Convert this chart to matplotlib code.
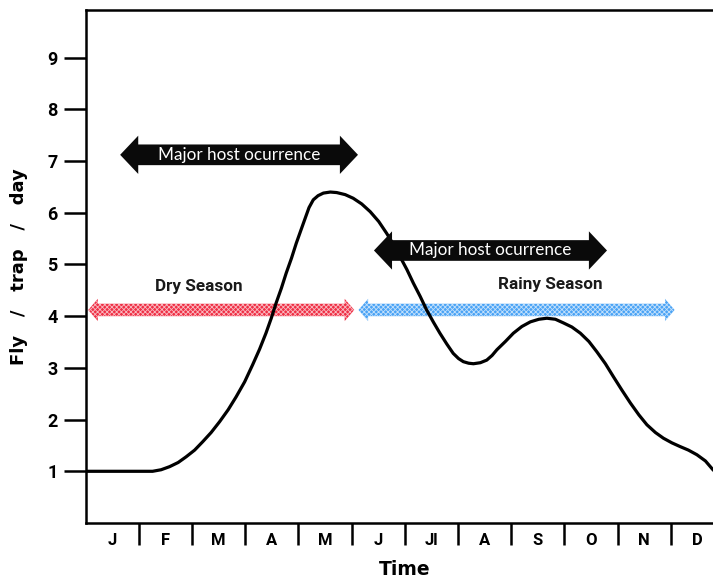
import numpy as np
import matplotlib.pyplot as plt
from matplotlib.patches import Polygon

# Miesiace (etykiety osi X)
months = ["J", "F", "M", "A", "M", "J", "Jl", "A", "S", "O", "N", "D"]

# Krzywa (x w miesiacach od poczatku stycznia)
curve_x = [0.0, 0.6, 1.26, 1.42, 1.58, 1.74, 1.89, 2.05, 2.20, 2.36, 2.52, 2.68, 2.83,
           2.99, 3.14, 3.27, 3.39, 3.49, 3.58, 3.68, 3.77, 3.87, 3.96, 4.05, 4.13,
           4.20, 4.28, 4.37, 4.47, 4.60, 4.72, 4.88, 5.03, 5.19, 5.35, 5.51, 5.66,
           5.79, 5.91, 6.04, 6.16, 6.29, 6.41, 6.54, 6.66, 6.79, 6.91, 7.01, 7.10,
           7.20, 7.29, 7.42, 7.54, 7.64, 7.73, 7.89, 8.04, 8.20, 8.36, 8.52, 8.67,
           8.83, 8.98, 9.14, 9.30, 9.46, 9.61, 9.77, 9.92, 10.08, 10.24, 10.40, 10.55,
           10.71, 10.86, 11.02, 11.17, 11.33, 11.49, 11.65, 11.80]
curve_y = [1.0, 1.0, 1.0, 1.03, 1.09, 1.17, 1.28, 1.41, 1.57, 1.75, 1.96, 2.19, 2.44,
           2.73, 3.06, 3.36, 3.67, 3.96, 4.25, 4.54, 4.83, 5.12, 5.41, 5.67, 5.90,
           6.10, 6.25, 6.33, 6.38, 6.40, 6.39, 6.35, 6.28, 6.17, 6.02, 5.83, 5.60,
           5.38, 5.15, 4.90, 4.64, 4.38, 4.12, 3.88, 3.67, 3.46, 3.28, 3.18, 3.12,
           3.09, 3.08, 3.10, 3.15, 3.24, 3.35, 3.51, 3.67, 3.80, 3.89, 3.94, 3.96,
           3.94, 3.87, 3.79, 3.67, 3.51, 3.31, 3.08, 2.83, 2.57, 2.32, 2.09, 1.90,
           1.75, 1.64, 1.55, 1.48, 1.41, 1.32, 1.20, 1.02]

# Strzalki: (start, koniec, poziom)
host_arrows = [(0.65, 5.12, 7.12), (5.42, 9.80, 5.27)]
season_arrows = [(0.05, 5.05, 4.12, "#ef2f45"), (5.13, 11.07, 4.12, "#4aa3f5")]
season_labels = [("Dry Season", 2.12, 4.58), ("Rainy Season", 8.73, 4.61)]


def strzalka(ax, x0, x1, y, body, head_w, head_l, **kw):
    # Podwojna strzalka jako wielokat
    pts = [(x0, y), (x0 + head_l, y + head_w / 2), (x0 + head_l, y + body / 2),
           (x1 - head_l, y + body / 2), (x1 - head_l, y + head_w / 2), (x1, y),
           (x1 - head_l, y - head_w / 2), (x1 - head_l, y - body / 2),
           (x0 + head_l, y - body / 2), (x0 + head_l, y - head_w / 2)]
    p = Polygon(pts, closed=True, **kw)
    ax.add_patch(p)
    return p


plt.rcParams['hatch.linewidth'] = 0.6
fig = plt.figure(figsize=(7.13, 5.79), dpi=100)
ax = fig.add_axes([0.12, 0.0967, 0.8955, 0.886])

ax.plot(curve_x, curve_y, color="black", lw=2.3, solid_joinstyle="round",
        solid_capstyle="round", zorder=3)

for x0, x1, y in host_arrows:
    strzalka(ax, x0, x1, y, 0.40, 0.74, 0.34, facecolor="#0a0a0a", edgecolor="none", zorder=4)
    ax.text((x0 + x1) / 2, y, "Major host ocurrence", color="white", ha="center", va="center",
            fontsize=12.3, family=["Lato", "DejaVu Sans"], zorder=5)

for x0, x1, y, c in season_arrows:
    strzalka(ax, x0, x1, y, 0.24, 0.43, 0.18, facecolor=c, edgecolor="#ffffffaa",
             hatch="xxxxxxx", lw=0, zorder=2)

for txt, x, y in season_labels:
    ax.text(x, y, txt, ha="center", va="center", fontsize=12.3, fontweight="bold",
            family=["Roboto", "DejaVu Sans"], color="#1a1a1a")

ax.set_xlim(0, 12)
ax.set_ylim(0, 9.92)

ax.set_xticks(range(1, 12))
ax.set_xticklabels([])
ax.set_xticks(np.arange(12) + 0.5, minor=True)
ax.set_xticklabels(months, minor=True, fontsize=12, fontweight="bold",
                   family=["Roboto", "DejaVu Sans"])
ax.tick_params(axis="x", which="major", length=16, width=1.8, direction="out")
ax.tick_params(axis="x", which="minor", length=0, pad=7)

ax.set_yticks(range(1, 10))
ax.set_yticklabels([str(i) for i in range(1, 10)], fontsize=13, fontweight="bold",
                   family=["Roboto", "DejaVu Sans"])
ax.tick_params(axis="y", length=16, width=1.8, pad=4)

for s in ["left", "bottom", "top"]:
    ax.spines[s].set_linewidth(1.8)
ax.spines["right"].set_visible(False)

ax.set_xlabel("Time", fontsize=13.5, fontweight="bold", labelpad=7)
ax.set_ylabel("Fly   /   trap   /   day", fontsize=13, fontweight="bold", labelpad=14)

plt.savefig("out.png", dpi=100)
